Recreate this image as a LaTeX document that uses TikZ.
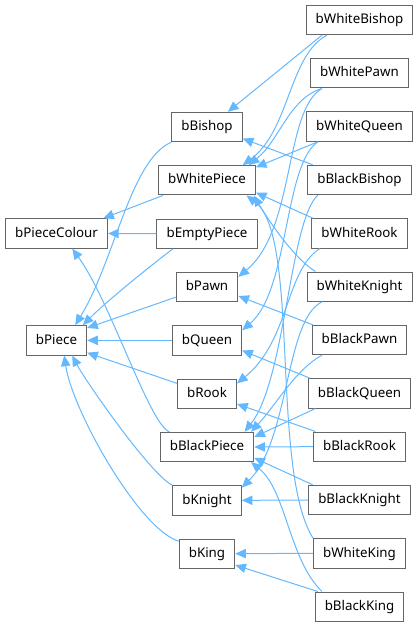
\documentclass[tikz,border=0pt]{standalone}
\usepackage{fontspec}
\setmainfont{Noto Sans}
\usetikzlibrary{arrows.meta, positioning}
\definecolor{edgeblue}{HTML}{63B8FF}
\definecolor{boxgray}{HTML}{666666}

\begin{document}
\begin{tikzpicture}[
  x=0.75pt, y=-0.75pt,
  node distance=17.25pt and 1cm,
  cls/.style={
    draw=boxgray,
    fill=white,
    rectangle,
    line width=0.75pt,
    minimum height=22pt,
    inner xsep=7.2pt,
    inner ysep=0pt,
    text height=7.5pt,
    text depth=2pt,
    font=\fontsize{10}{12}\selectfont
  },
  inherit/.style={edgeblue, line width=0.75pt, -{Triangle[length=8pt,width=7pt]}}
]
\useasboundingbox (0,0) rectangle (419,627);

% concrete pieces
\node[cls] (bWhiteBishop) at (359.5,20) {bWhiteBishop};
\node[cls, below=of bWhiteBishop] (bWhitePawn) {bWhitePawn};
\node[cls, below=of bWhitePawn] (bWhiteQueen) {bWhiteQueen};
\node[cls, below=of bWhiteQueen] (bBlackBishop) {bBlackBishop};
\node[cls, below=of bBlackBishop] (bWhiteRook) {bWhiteRook};
\node[cls, below=of bWhiteRook] (bWhiteKnight) {bWhiteKnight};
\node[cls, below=of bWhiteKnight] (bBlackPawn) {bBlackPawn};
\node[cls, below=of bBlackPawn] (bBlackQueen) {bBlackQueen};
\node[cls, below=of bBlackQueen] (bBlackRook) {bBlackRook};
\node[cls, below=of bBlackRook] (bBlackKnight) {bBlackKnight};
\node[cls, below=of bBlackKnight] (bWhiteKing) {bWhiteKing};
\node[cls, below=of bWhiteKing] (bBlackKing) {bBlackKing};

% piece kinds and colours
\node[cls] (bBishop) at (207,127) {bBishop};
\node[cls, below=of bBishop] (bWhitePiece) {bWhitePiece};
\node[cls, below=of bWhitePiece] (bEmptyPiece) {bEmptyPiece};
\node[cls, below=of bEmptyPiece] (bPawn) {bPawn};
\node[cls, below=of bPawn] (bQueen) {bQueen};
\node[cls, below=of bQueen] (bRook) {bRook};
\node[cls, below=of bRook] (bBlackPiece) {bBlackPiece};
\node[cls, below=of bBlackPiece] (bKnight) {bKnight};
\node[cls, below=of bKnight] (bKing) {bKing};

% bases
\node[cls] (bPieceColour) at (56.5,233.5) {bPieceColour};
\node[cls] (bPiece) at (bPieceColour |- bQueen) {bPiece};

\draw[inherit] (bBishop.south west) .. controls +(-41,18) and +(40,-66) .. (bPiece.39);
\draw[inherit] (bWhitePiece.199) -- (bPieceColour.18);
\draw[inherit] (bEmptyPiece.west) -- (bPieceColour.east);
\draw[inherit] (bEmptyPiece.204) .. controls +(-20,15) and +(25,-25) .. (bPiece.30);
\draw[inherit] (bPawn.198) -- (bPiece.22);
\draw[inherit] (bQueen.west) -- (bPiece.east);
\draw[inherit] (bRook.161) -- (bPiece.338);
\draw[inherit] (bBlackPiece.158) .. controls +(-20,-7) and +(38,52) .. (bPieceColour.316);
\draw[inherit] (bKnight.north west) .. controls +(-22,-11) and +(13,25) .. (bPiece.316);
\draw[inherit] (bKing.156) .. controls +(-39,-11) and +(8,55) .. (bPiece.297);

\draw[inherit] (bWhiteBishop.202) -- (bBishop.36);
\draw[inherit] (bWhiteBishop.205) .. controls +(-38,20) and +(47,-35) .. (bWhitePiece.23);
\draw[inherit] (bWhitePawn.202) .. controls +(-33,10) and +(31,-25) .. (bWhitePiece.20);
\draw[inherit] (bWhitePawn.202) .. controls +(-38,22) and +(57,-47) .. (bPawn.18);
\draw[inherit] (bWhiteQueen.200) -- (bWhitePiece.15);
\draw[inherit] (bWhiteQueen.200) .. controls +(-34,23) and +(47,-40) .. (bQueen.16);
\draw[inherit] (bBlackBishop.162) -- (bBishop.342);
\draw[inherit] (bBlackBishop.200) .. controls +(-28,25) and +(41,-52) .. (bBlackPiece.22);
\draw[inherit] (bWhiteRook.162) -- (bWhitePiece.346);
\draw[inherit] (bWhiteRook.201) .. controls +(-35,22) and +(53,-43) .. (bRook.19);
\draw[inherit] (bWhiteKnight.161) .. controls +(-23,-14) and +(12,20) .. (bWhitePiece.342);
\draw[inherit] (bWhiteKnight.202) .. controls +(-37,18) and +(48,-48) .. (bKnight.20);
\draw[inherit] (bBlackPawn.162) -- (bPawn.344);
\draw[inherit] (bBlackPawn.202) .. controls +(-27,15) and +(25,-27) .. (bBlackPiece.19);
\draw[inherit] (bBlackQueen.163) -- (bQueen.344);
\draw[inherit] (bBlackQueen.199) -- (bBlackPiece.12);
\draw[inherit] (bBlackRook.161) -- (bRook.341);
\draw[inherit] (bBlackRook.west) -- (bBlackPiece.east);
\draw[inherit] (bBlackKnight.west) -- (bKnight.east);
\draw[inherit] (bBlackKnight.162) -- (bBlackPiece.347);
\draw[inherit] (bWhiteKing.west) -- (bKing.east);
\draw[inherit] (bWhiteKing.north west) .. controls +(-43,-69) and +(54,40) .. (bWhitePiece.339);
\draw[inherit] (bBlackKing.160) -- (bKing.338);
\draw[inherit] (bBlackKing.158) .. controls +(-33,-32) and +(35,28) .. (bBlackPiece.341);

\end{tikzpicture}
\end{document}
